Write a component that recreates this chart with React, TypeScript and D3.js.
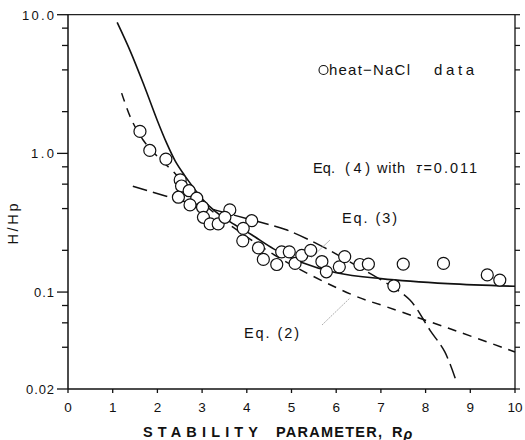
import React from 'react';
import * as d3 from 'd3';

// ---- data ----
const dataRho = [1.61, 1.83, 2.19, 2.51, 2.54, 2.71, 2.47, 2.88, 2.73, 3.01, 3.62, 3.03, 3.18, 3.36, 3.51, 4.11, 3.92, 3.91, 4.26, 4.37, 4.78, 4.95, 4.67, 5.08, 5.23, 5.43, 5.68, 5.78, 6.07, 6.19, 6.53, 6.72, 7.29, 7.5, 8.4, 9.38, 9.66];
const dataH = [1.44, 1.05, 0.91, 0.644, 0.582, 0.538, 0.483, 0.475, 0.425, 0.409, 0.391, 0.346, 0.31, 0.31, 0.346, 0.327, 0.288, 0.234, 0.208, 0.172, 0.195, 0.195, 0.158, 0.161, 0.184, 0.2, 0.166, 0.14, 0.152, 0.18, 0.158, 0.159, 0.111, 0.159, 0.161, 0.133, 0.122];

const eq4Rho = [1.1, 1.4, 1.7, 2.0, 2.2, 2.4, 2.6, 2.8, 3.0, 3.3, 3.7, 4.1, 4.6, 5.2, 6.0, 7.0, 8.5, 10];
const eq4H = [8.8, 5.4, 3.1, 1.72, 1.2, 0.88, 0.7, 0.57, 0.47, 0.38, 0.31, 0.26, 0.205, 0.165, 0.138, 0.125, 0.115, 0.11];

const eq2Rho = [1.2, 1.42, 1.68, 2.0, 2.39, 2.7, 3.06, 3.69, 4.81, 6.38, 7.14, 8.5, 10];
const eq2H = [2.72, 1.75, 1.25, 0.95, 0.72, 0.55, 0.425, 0.294, 0.17, 0.095, 0.078, 0.055, 0.037];

const eq3Rho = [1.45, 2.6, 4.2, 4.9, 5.75, 6.42, 7.2, 7.65, 8.1, 8.43, 8.7];
const eq3H = [0.58, 0.45, 0.325, 0.28, 0.208, 0.157, 0.112, 0.0876, 0.053, 0.037, 0.022];

const xTickValues = [0, 1, 2, 3, 4, 5, 6, 7, 8, 9, 10];
const yTickValues = [10, 1, 0.1, 0.02];
const yTickLabels = ['10.0', '1.0', '0.1', '0.02'];
const yMinorTicks = [8, 6, 4, 2, 0.8, 0.6, 0.4, 0.2, 0.08, 0.06, 0.04];

const W = 525;
const H = 440;
const left = 68, right = 515, top = 14.7, bottom = 389;

export default function App() {
  const x = d3.scaleLinear().domain([0, 10]).range([left, right]);
  const y = d3.scaleLog().domain([0.02, 10]).range([bottom, top]);

  const mk = (xs: number[], ys: number[]) =>
    d3.line<number>().x((_, i) => x(xs[i])).y((_, i) => y(ys[i])).curve(d3.curveCatmullRom.alpha(0.5))(xs);

  const font = "'Liberation Sans', Arial, sans-serif";
  const labW = [32, 23, 20, 28];

  return (
    <svg width={W} height={H} style={{ position: 'absolute', left: 0, top: 0, background: '#fff' }} fontFamily={font}>
      <rect x={0} y={0} width={W} height={H} fill="#fff" />
      {/* frame */}
      <line x1={left} x2={right} y1={top} y2={top} stroke="#222" strokeWidth={1.2} />
      <line x1={left} x2={right} y1={bottom} y2={bottom} stroke="#111" strokeWidth={1.5} />
      <line x1={left} x2={left} y1={top} y2={bottom} stroke="#111" strokeWidth={1.5} />
      <line x1={right} x2={right} y1={top} y2={bottom} stroke="#111" strokeWidth={1.3} />

      {/* y ticks */}
      {yTickValues.map((v, i) => (
        <g key={'yt' + i}>
          <line x1={left - 11} x2={left} y1={y(v)} y2={y(v)} stroke="#111" strokeWidth={1.3} />
          <line x1={right} x2={right + 5} y1={y(v)} y2={y(v)} stroke="#111" strokeWidth={1.2} />
          <text x={54} y={y(v) + 5} textAnchor="end" fontSize={13} textLength={labW[i]} lengthAdjust="spacing" fill="#111">{yTickLabels[i]}</text>
        </g>
      ))}
      {yMinorTicks.map((v, i) => (
        <g key={'ym' + i}>
          <line x1={left - 6} x2={left} y1={y(v)} y2={y(v)} stroke="#111" strokeWidth={1.3} />
          <line x1={right} x2={right + 5} y1={y(v)} y2={y(v)} stroke="#111" strokeWidth={1.2} />
        </g>
      ))}

      {/* x ticks */}
      {xTickValues.map((v) => (
        <g key={'xt' + v}>
          <line x1={x(v)} x2={x(v)} y1={bottom} y2={bottom + 4} stroke="#111" strokeWidth={1.3} />
          <text x={x(v)} y={412} textAnchor="middle" fontSize={13.5} fill="#111">{v}</text>
        </g>
      ))}

      {/* axis titles */}
      <text x={143} y={437} fontSize={14.5} fontWeight="bold" textLength={115} lengthAdjust="spacing" fill="#111">STABILITY</text>
      <text x={276} y={437} fontSize={14.5} fontWeight="bold" textLength={106} lengthAdjust="spacing" fill="#111">PARAMETER,</text>
      <text x={392} y={437} fontSize={14.5} fontWeight="bold" fill="#111">R<tspan fontStyle="italic" dy={1.5} dx={1}>ρ</tspan></text>
      <text transform="translate(18,224) rotate(-90)" textAnchor="middle" fontSize={14.5} textLength={41} lengthAdjust="spacing" fill="#111">H/Hp</text>

      {/* curves */}
      <path d={mk(eq4Rho, eq4H) || ''} fill="none" stroke="#111" strokeWidth={1.6} />
      <path d={mk(eq2Rho, eq2H) || ''} fill="none" stroke="#111" strokeWidth={1.5} strokeDasharray="9,7" />
      <path d={mk(eq3Rho, eq3H) || ''} fill="none" stroke="#111" strokeWidth={1.5} strokeDasharray="15,6" />

      {/* pointers */}
      <line x1={330} y1={240} x2={311} y2={258} stroke="#aaa" strokeWidth={0.8} />
      <line x1={322} y1={325} x2={350} y2={298} stroke="#999" strokeWidth={0.8} strokeDasharray="2,1" />

      {/* data */}
      {dataRho.map((r, i) => (
        <circle key={'p' + i} cx={x(r)} cy={y(dataH[i])} r={6} fill="#fff" stroke="#111" strokeWidth={1.2} />
      ))}

      {/* annotations */}
      <circle cx={323.5} cy={70} r={4.5} fill="none" stroke="#111" strokeWidth={1.1} />
      <text x={329} y={75} fontSize={15} textLength={81} lengthAdjust="spacing" fill="#111">heat−NaCl</text>
      <text x={434} y={75} fontSize={15} textLength={40} lengthAdjust="spacing" fill="#111">data</text>

      <text x={313} y={173} fontSize={14.5} textLength={22} lengthAdjust="spacing" fill="#111">Eq.</text>
      <text x={345} y={173} fontSize={14.5} textLength={25} lengthAdjust="spacing" fill="#111">(4)</text>
      <text x={377} y={173} fontSize={14.5} textLength={28} lengthAdjust="spacing" fill="#111">with</text>
      <text x={416} y={173} fontSize={14.5} textLength={61} lengthAdjust="spacing" fill="#111">
        <tspan fontStyle="italic">τ</tspan>=0.011
      </text>

      <text x={342} y={223} fontSize={14.5} textLength={55} lengthAdjust="spacing" fill="#111">Eq. (3)</text>
      <text x={244} y={338} fontSize={14.5} textLength={55} lengthAdjust="spacing" fill="#111">Eq. (2)</text>
    </svg>
  );
}
